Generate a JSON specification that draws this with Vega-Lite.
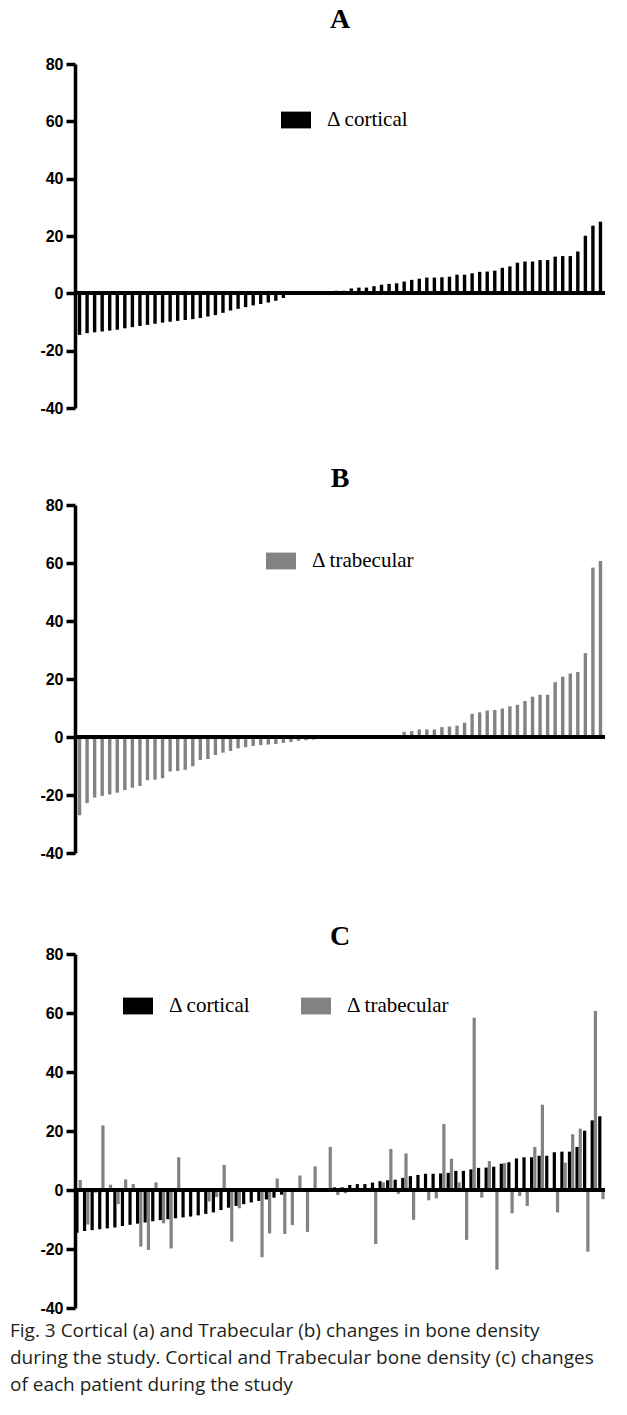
{
  "$schema": "https://vega.github.io/schema/vega-lite/v6.json",
  "background": "white",
  "padding": {"left": 10, "top": 6, "right": 10, "bottom": 4},
  "datasets": {
    "patients": [
      {"p": 0, "cortical": -14.5, "trabecular": 3.4},
      {"p": 1, "cortical": -13.9, "trabecular": -11.7},
      {"p": 2, "cortical": -13.6, "trabecular": -0.9},
      {"p": 3, "cortical": -13.3, "trabecular": 21.9},
      {"p": 4, "cortical": -13.0, "trabecular": 1.8},
      {"p": 5, "cortical": -12.7, "trabecular": -4.8},
      {"p": 6, "cortical": -12.2, "trabecular": 3.6},
      {"p": 7, "cortical": -11.8, "trabecular": 2.0},
      {"p": 8, "cortical": -11.4, "trabecular": -19.2},
      {"p": 9, "cortical": -11.0, "trabecular": -20.3},
      {"p": 10, "cortical": -10.6, "trabecular": 2.6},
      {"p": 11, "cortical": -10.2, "trabecular": -11.3},
      {"p": 12, "cortical": -9.9, "trabecular": -19.8},
      {"p": 13, "cortical": -9.6, "trabecular": 11.1},
      {"p": 14, "cortical": -9.3, "trabecular": 0.2},
      {"p": 15, "cortical": -9.0, "trabecular": -0.7},
      {"p": 16, "cortical": -8.6, "trabecular": 0.1},
      {"p": 17, "cortical": -8.1, "trabecular": -3.9},
      {"p": 18, "cortical": -7.6, "trabecular": -2.4},
      {"p": 19, "cortical": -6.8, "trabecular": 8.5},
      {"p": 20, "cortical": -6.0, "trabecular": -17.5},
      {"p": 21, "cortical": -5.4, "trabecular": -6.2},
      {"p": 22, "cortical": -4.8, "trabecular": -0.6},
      {"p": 23, "cortical": -4.2, "trabecular": -0.4},
      {"p": 24, "cortical": -3.7, "trabecular": -22.8},
      {"p": 25, "cortical": -3.2, "trabecular": -14.7},
      {"p": 26, "cortical": -2.6, "trabecular": 3.9},
      {"p": 27, "cortical": -1.6, "trabecular": -14.9},
      {"p": 28, "cortical": -0.5, "trabecular": -11.9},
      {"p": 29, "cortical": -0.2, "trabecular": 4.9},
      {"p": 30, "cortical": 0.1, "trabecular": -14.2},
      {"p": 31, "cortical": 0.2, "trabecular": 8.0},
      {"p": 32, "cortical": 0.3, "trabecular": 0.0},
      {"p": 33, "cortical": 0.5, "trabecular": 14.6},
      {"p": 34, "cortical": 0.9, "trabecular": -1.7},
      {"p": 35, "cortical": 0.9, "trabecular": -1.1},
      {"p": 36, "cortical": 1.7, "trabecular": -0.3},
      {"p": 37, "cortical": 2.0, "trabecular": 0.1},
      {"p": 38, "cortical": 2.0, "trabecular": -0.2},
      {"p": 39, "cortical": 2.5, "trabecular": -18.3},
      {"p": 40, "cortical": 3.0, "trabecular": 2.6},
      {"p": 41, "cortical": 3.3, "trabecular": 13.9},
      {"p": 42, "cortical": 3.5, "trabecular": -1.3},
      {"p": 43, "cortical": 4.1, "trabecular": 12.4},
      {"p": 44, "cortical": 4.7, "trabecular": -10.1},
      {"p": 45, "cortical": 5.1, "trabecular": 0.0},
      {"p": 46, "cortical": 5.5, "trabecular": -3.5},
      {"p": 47, "cortical": 5.5, "trabecular": -2.8},
      {"p": 48, "cortical": 5.6, "trabecular": 22.4},
      {"p": 49, "cortical": 5.8, "trabecular": 10.6},
      {"p": 50, "cortical": 6.5, "trabecular": 2.6},
      {"p": 51, "cortical": 6.5, "trabecular": -16.9},
      {"p": 52, "cortical": 7.0, "trabecular": 58.4},
      {"p": 53, "cortical": 7.5, "trabecular": -2.6},
      {"p": 54, "cortical": 7.6, "trabecular": 9.8},
      {"p": 55, "cortical": 7.9, "trabecular": -27.0},
      {"p": 56, "cortical": 8.9, "trabecular": 9.1},
      {"p": 57, "cortical": 9.4, "trabecular": -7.9},
      {"p": 58, "cortical": 10.7, "trabecular": -2.0},
      {"p": 59, "cortical": 11.1, "trabecular": -5.4},
      {"p": 60, "cortical": 11.1, "trabecular": 14.6},
      {"p": 61, "cortical": 11.6, "trabecular": 28.9},
      {"p": 62, "cortical": 11.6, "trabecular": -0.1},
      {"p": 63, "cortical": 12.8, "trabecular": -7.6},
      {"p": 64, "cortical": 13.0, "trabecular": 9.3},
      {"p": 65, "cortical": 13.0, "trabecular": 18.9},
      {"p": 66, "cortical": 14.6, "trabecular": 20.8},
      {"p": 67, "cortical": 20.1, "trabecular": -20.9},
      {"p": 68, "cortical": 23.6, "trabecular": 60.7},
      {"p": 69, "cortical": 25.0, "trabecular": -3.1}
    ]
  },
  "spacing": 62,
  "resolve": {
    "scale": {"color": "independent", "x": "independent", "y": "independent"},
    "legend": {"color": "independent"}
  },
  "title": {
    "text": [
      "Fig. 3 Cortical (a) and Trabecular (b) changes in bone density",
      "during the study. Cortical and Trabecular bone density (c) changes",
      "of each patient during the study"
    ],
    "orient": "bottom",
    "anchor": "start",
    "font": "Open Sans",
    "fontSize": 19,
    "fontWeight": "normal",
    "color": "#231f20",
    "lineHeight": 27,
    "offset": 6
  },
  "config": {
    "view": {"stroke": null},
    "title": {"font": "Liberation Serif", "fontSize": 28, "fontWeight": "bold", "color": "black", "anchor": "middle"},
    "axisY": {
      "domainWidth": 3.5, "domainColor": "black",
      "tickWidth": 3.5, "tickColor": "black", "tickSize": 9,
      "labelFont": "Liberation Sans", "labelFontWeight": "bold", "labelFontSize": 16, "labelColor": "black",
      "labelPadding": 3, "grid": false, "title": null,
      "minExtent": 65, "maxExtent": 65
    },
    "legend": {
      "orient": "none", "title": null,
      "symbolType": "M-1,-0.56H1V0.56H-1Z", "symbolSize": 900, "symbolStrokeWidth": 0,
      "labelFont": "Liberation Serif", "labelFontSize": 21, "labelColor": "black", "labelOffset": 16
    }
  },
  "vconcat": [
    {
      "spacing": 49,
      "resolve": {
        "scale": {"color": "independent", "x": "independent", "y": "independent"},
        "legend": {"color": "independent"}
      },
      "vconcat": [
        {
          "width": 530, "height": 344,
          "title": {"text": "A", "offset": 22},
          "data": {"name": "patients"},
          "layer": [
            {
              "mark": {"type": "bar"},
              "encoding": {
                "x": {"field": "p", "type": "ordinal", "axis": null, "scale": {"paddingInner": 0.55, "paddingOuter": 0.375}},
                "y": {"field": "cortical", "type": "quantitative", "scale": {"domain": [-40, 80], "nice": false}, "axis": {"values": [-40, -20, 0, 20, 40, 60, 80], "labelExpr": "'' + datum.value"}},
                "color": {"datum": "cortical", "scale": {"domain": ["cortical"], "range": ["#000000"]}, "legend": {"legendX": 206, "legendY": 41, "labelExpr": "'Δ ' + datum.label"}}
              }
            },
            {"mark": {"type": "rule", "strokeWidth": 3.5, "color": "black"}, "encoding": {"y": {"datum": 0}}}
          ]
        },
        {
          "width": 530, "height": 348,
          "title": {"text": "B", "offset": 4},
          "data": {"name": "patients"},
          "layer": [
            {
              "mark": {"type": "bar"},
              "encoding": {
                "x": {"field": "p", "type": "ordinal", "axis": null, "sort": {"field": "trabecular", "op": "min", "order": "ascending"}, "scale": {"paddingInner": 0.55, "paddingOuter": 0.375}},
                "y": {"field": "trabecular", "type": "quantitative", "scale": {"domain": [-40, 80], "nice": false}, "axis": {"values": [-40, -20, 0, 20, 40, 60, 80], "labelExpr": "'' + datum.value"}},
                "color": {"datum": "trabecular", "scale": {"domain": ["trabecular"], "range": ["#828282"]}, "legend": {"legendX": 191, "legendY": 41, "labelExpr": "'Δ ' + datum.label"}}
              }
            },
            {"mark": {"type": "rule", "strokeWidth": 3.5, "color": "black"}, "encoding": {"y": {"datum": 0}}}
          ]
        }
      ]
    },
    {
      "width": 530, "height": 354,
      "title": {"text": "C", "offset": -5},
      "data": {"name": "patients"},
      "layer": [
        {
          "transform": [{"fold": ["cortical", "trabecular"], "as": ["series", "value"]}],
          "mark": {"type": "bar"},
          "encoding": {
            "x": {"field": "p", "type": "ordinal", "axis": null, "scale": {"paddingInner": 0.15, "paddingOuter": 0.05}},
            "xOffset": {"field": "series", "type": "nominal", "scale": {"paddingInner": 0, "paddingOuter": 0}},
            "y": {"field": "value", "type": "quantitative", "scale": {"domain": [-40, 80], "nice": false}, "axis": {"values": [-40, -20, 0, 20, 40, 60, 80], "labelExpr": "'' + datum.value"}},
            "color": {"field": "series", "type": "nominal", "scale": {"domain": ["cortical", "trabecular"], "range": ["#000000", "#828282"]}, "legend": {"legendX": 48, "legendY": 37, "direction": "horizontal", "columnPadding": 50, "labelExpr": "'Δ ' + datum.label"}}
          }
        },
        {"mark": {"type": "rule", "strokeWidth": 3.5, "color": "black"}, "encoding": {"y": {"datum": 0}}}
      ]
    }
  ]
}
